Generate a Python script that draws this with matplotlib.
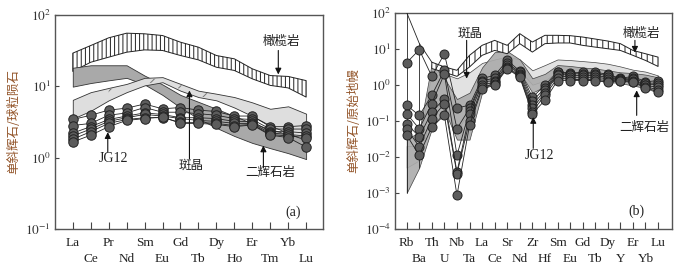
import matplotlib
matplotlib.use('Agg')
import matplotlib.pyplot as plt
import numpy as np

plt.rcParams['font.family'] = ['Liberation Serif', 'Noto Sans CJK SC', 'DejaVu Sans']
plt.rcParams['mathtext.fontset'] = 'stix'
plt.rcParams['hatch.linewidth'] = 0.7

# ---------------- (a) REE, chondrite normalised ----------------
ree = ['La', 'Ce', 'Pr', 'Nd', 'Sm', 'Eu', 'Gd', 'Tb', 'Dy', 'Ho', 'Er', 'Tm', 'Yb', 'Lu']
ree_olv_top = [28.8, 36.8, 47.2, 54.8, 53.7, 50.8, 41.0, 34.9, 26.7, 24.0, 17.4, 14.0, 13.6, 11.9]
ree_olv_bot = [16.0, 21.5, 25.3, 29.7, 32.0, 31.4, 26.7, 23.2, 18.3, 16.5, 12.6, 10.2, 9.4, 7.0]
ree_web_top = [18.0, 19.5, 19.5, 19.5, 14.0, 10.5, 7.5, 6.0, 4.8, 3.8, 3.0, 2.5, 2.1, 1.85]
ree_web_bot = [9.8, 11.0, 12.0, 13.0, 10.5, 7.5, 5.0, 3.5, 2.6, 2.0, 1.6, 1.35, 1.15, 0.95]
ree_phe_top = [6.4, 8.2, 9.4, 10.7, 13.0, 13.3, 10.7, 8.6, 7.8, 7.0, 5.9, 4.8, 5.2, 4.1]
ree_phe_bot = [3.5, 4.5, 6.3, 8.2, 10.2, 11.3, 8.6, 7.0, 6.3, 5.0, 3.8, 2.8, 2.2, 1.73]
ree_hat_idx = [2, 3, 4, 5, 6, 7, 8]
ree_hat_top = [9.0, 10.3, 12.5, 12.8, 10.3, 8.3, 7.5]
ree_hat_bot = [7.5, 8.8, 10.8, 11.5, 9.0, 7.2, 6.5]
ree_jg12 = [
    [3.4, 3.9, 4.6, 4.9, 5.6, 4.8, 5.0, 4.6, 4.4, 3.8, 3.8, 2.7, 2.7, 2.8],
    [2.8, 3.0, 3.9, 4.2, 5.0, 4.3, 4.3, 4.1, 3.9, 3.5, 3.4, 2.5, 2.5, 2.5],
    [2.2, 2.7, 3.4, 3.8, 4.2, 4.0, 3.6, 3.6, 3.5, 3.2, 3.2, 2.3, 2.3, 2.2],
    [2.0, 2.5, 3.2, 3.6, 4.0, 3.8, 3.5, 3.3, 3.2, 3.0, 3.0, 2.2, 2.1, 2.0],
    [1.8, 2.3, 3.0, 3.4, 3.6, 3.6, 3.1, 3.1, 3.0, 2.8, 2.9, 2.1, 2.0, 1.9],
    [1.65, 2.05, 2.7, 3.3, 3.5, 3.7, 3.0, 3.0, 2.9, 2.7, 2.85, 2.05, 1.9, 1.4],
]

# ---------------- (b) trace elements, primitive mantle normalised ----------------
spd = ['Rb', 'Ba', 'Th', 'U', 'Nb', 'Ta', 'La', 'Ce', 'Sr', 'Nd', 'Zr', 'Hf',
       'Sm', 'Eu', 'Gd', 'Tb', 'Dy', 'Y', 'Er', 'Yb', 'Lu']
spd_olv_idx = list(range(2, 21))
spd_olv_top = [4.2, 3.1, 2.5, 6.5, 12.3, 16.9, 12.3, 25.9, 15.2, 23.3, 23.3, 22.8, 20.9, 18.4, 16.2, 13.7, 8.9, 7.2, 5.8]
spd_olv_bot = [2.8, 2.2, 1.7, 3.1, 6.5, 8.9, 7.2, 13.7, 8.0, 13.7, 14.3, 14.3, 12.3, 11.0, 9.9, 8.9, 6.5, 4.7, 3.2]
spd_phe_top = [0.02, 0.02, 2.5, 2.0, 1.5, 2.2, 4.0, 5.0, 6.0, 5.0, 2.5, 3.5, 5.0, 4.8, 4.5, 4.2, 3.8, 3.2, 2.6, 2.3, 1.8]
spd_phe_bot = [0.005, 0.008, 0.2, 0.3, 0.05, 0.2, 1.0, 2.0, 3.5, 2.5, 1.0, 1.3, 2.3, 2.2, 2.0, 1.9, 1.8, 1.6, 1.5, 1.3, 1.1]
spd_web_top = [0.03, 0.05, 4.0, 1.5, 0.4, 0.6, 3.0, 8.0, 8.5, 5.0, 1.5, 2.0, 3.5, 3.3, 3.0, 2.8, 2.5, 2.2, 2.1, 1.9, 1.6]
spd_web_bot = [0.001, 0.005, 0.06, 0.2, 0.03, 0.03, 0.6, 1.5, 3.5, 2.2, 0.6, 0.9, 1.6, 1.5, 1.4, 1.3, 1.2, 1.1, 0.95, 0.8, 0.6]
spd_env_idx = [0, 1, 2]
spd_env_val = [100, 14, 4.2]
spd_vline_idx = [0, 1]
spd_vline_lo = [0.001, 0.005]
spd_vline_hi = [100, 14]
spd_jg12 = [
    [4.07, 9.3, 1.7, 7.2, 0.226, 0.27, 1.5, 1.8, 4.7, 2.4, 0.45, 0.96, 2.3, 2.1, 2.2, 2.2, 1.95, 1.5, 1.7, 1.2, 1.3],
    [0.27, 0.14, 0.51, 2.5, 0.06, 0.22, 1.3, 1.5, 4.0, 2.2, 0.35, 0.8, 2.2, 2.0, 2.0, 2.0, 1.8, 1.45, 1.55, 1.1, 1.1],
    [0.157, 0.06, 0.3, 2.0, 0.011, 0.19, 1.19, 1.3, 3.4, 2.0, 0.27, 0.7, 2.0, 1.8, 1.8, 1.8, 1.6, 1.4, 1.4, 1.0, 1.0],
    [0.083, 0.036, 0.175, 0.41, 0.0038, 0.15, 1.0, 1.15, 3.1, 1.8, 0.22, 0.6, 1.8, 1.6, 1.6, 1.6, 1.47, 1.35, 1.3, 0.95, 0.85],
    [0.06, 0.019, 0.114, 0.3, 0.0034, 0.1, 0.85, 1.05, 2.9, 1.7, 0.18, 0.51, 1.5, 1.4, 1.4, 1.4, 1.3, 1.3, 1.2, 0.88, 0.72],
    [0.04, 0.011, 0.068, 0.14, 0.00086, 0.075, 0.77, 0.96, 2.8, 1.6, 0.157, 0.37, 1.3, 1.3, 1.3, 1.3, 1.19, 1.25, 1.15, 0.83, 0.63],
]

CJK = ['Noto Sans CJK SC', 'DejaVu Sans']
label_color = '#93552a'
txt_color = '#222222'
dot_kw = dict(marker='o', ms=6.8, mfc='#5c5c5c', mec='#222222', mew=0.7,
              color='#222222', lw=0.6)

fig = plt.figure(figsize=(6.82, 2.69), dpi=100)
axA = fig.add_axes([55 / 682, 40 / 269, 268 / 682, 214.5 / 269])
axB = fig.add_axes([395 / 682, 40 / 269, 277 / 682, 216.5 / 269])


def style(ax, names, ylo, yhi, xlim):
    ax.set_yscale('log')
    ax.set_ylim(ylo, yhi)
    ax.set_xlim(*xlim)
    idx = np.arange(len(names))
    ev = idx[::2]
    od = idx[1::2]
    ax.set_xticks(ev)
    ax.set_xticklabels([names[i] for i in ev], fontsize=9.5, color='#222222')
    ax.set_xticks(od, minor=True)
    ax.set_xticklabels([names[i] for i in od], minor=True, fontsize=9.5, color='#222222')
    exps = list(range(int(np.log10(ylo)), int(np.log10(yhi)) + 1))
    ax.set_yticks([10.0 ** e for e in exps])
    ax.set_yticklabels(['$10^{%d}$' % e for e in exps], fontsize=9.5, color='#333333')
    ax.yaxis.set_minor_locator(matplotlib.ticker.NullLocator())
    ax.tick_params(axis='x', which='major', direction='in', length=5, width=0.8, pad=5.5,
                   color='#444444')
    ax.tick_params(axis='x', which='minor', direction='in', length=5, width=0.8, pad=17,
                   color='#444444')
    ax.tick_params(axis='y', direction='in', length=3, width=0.8, pad=3, color='#444444')
    for s in ax.spines.values():
        s.set_color('#555555')
        s.set_linewidth(1.0)


# ----- panel (a) -----
style(axA, ree, 0.1, 100, (-0.99, 13.94))
xa = np.arange(len(ree))
axA.fill_between(xa, ree_olv_bot, ree_olv_top, facecolor='white', edgecolor='#222222',
                 hatch='||||', lw=0.7, zorder=1)
axA.fill_between(xa, ree_web_bot, ree_web_top, facecolor='#a9a9a9', edgecolor='#333333',
                 lw=0.6, zorder=2)
axA.fill_between(xa, ree_phe_bot, ree_phe_top, facecolor='#dedede', edgecolor='#333333',
                 lw=0.6, zorder=3)
axA.fill_between(ree_hat_idx, ree_hat_bot, ree_hat_top, facecolor='none', edgecolor='#777777',
                 hatch='/', lw=0, zorder=3.5)
for s in ree_jg12:
    axA.plot(xa, s, zorder=5, **dot_kw)

arrow_kw = dict(arrowstyle='-|>', mutation_scale=9, lw=0.8, color='#111111',
                shrinkA=0, shrinkB=0)
axA.annotate('', xy=(11.45, 14.5), xytext=(11.45, 31.4), arrowprops=arrow_kw, zorder=7)
axA.text(11.64, 41.9, '橄榄岩', family=CJK, fontsize=9, ha='center', va='center', color=txt_color)
axA.annotate('', xy=(1.95, 2.26), xytext=(1.95, 1.19), arrowprops=arrow_kw, zorder=7)
axA.text(2.25, 0.96, 'JG12', fontsize=10, ha='center', va='center', color=txt_color)
axA.annotate('', xy=(6.5, 8.65), xytext=(6.5, 0.96), arrowprops=arrow_kw, zorder=7)
axA.text(6.6, 0.79, '斑晶', family=CJK, fontsize=9, ha='center', va='center', color=txt_color)
axA.annotate('', xy=(10.62, 1.47), xytext=(10.62, 0.73), arrowprops=arrow_kw, zorder=7)
axA.text(11.0, 0.62, '二辉石岩', family=CJK, fontsize=9, ha='center', va='center', color=txt_color)
axA.text(12.29, 0.169, '(a)', fontsize=10, ha='center', va='center', color=txt_color)
axA.set_ylabel('单斜辉石/球粒陨石', family=CJK, fontsize=9, color=label_color)
axA.yaxis.set_label_coords(-0.13, 0.5)

# ----- panel (b) -----
style(axB, spd, 1e-4, 100, (-0.93, 21.11))
xb = np.arange(len(spd))
axB.fill_between(xb, spd_phe_bot, spd_phe_top, facecolor='#e2e2e2', edgecolor='#444444',
                 lw=0.5, zorder=1)
axB.fill_between(xb, spd_web_bot, spd_web_top, facecolor='#ababab', edgecolor='#333333',
                 lw=0.5, zorder=2, alpha=0.9)
axB.fill_between(spd_olv_idx, spd_olv_bot, spd_olv_top, facecolor='white', edgecolor='#222222',
                 hatch='|||', lw=0.7, zorder=3)
axB.plot(spd_env_idx, spd_env_val, color='#222222', lw=0.6, zorder=4)
axB.vlines(spd_vline_idx, spd_vline_lo, spd_vline_hi, color='#222222', lw=0.6, zorder=4)
for s in spd_jg12:
    axB.plot(xb, s, zorder=5, **dict(dot_kw, ms=6.5))

axB.annotate('', xy=(4.77, 1.47), xytext=(4.77, 16.9), arrowprops=arrow_kw, zorder=7)
axB.text(5.04, 25.9, '斑晶', family=CJK, fontsize=9, ha='center', va='center', color=txt_color)
axB.annotate('', xy=(18.16, 7.7), xytext=(18.16, 16.9), arrowprops=arrow_kw, zorder=7)
axB.text(18.7, 25.9, '橄榄岩', family=CJK, fontsize=9, ha='center', va='center', color=txt_color)
axB.annotate('', xy=(10.07, 0.127), xytext=(10.07, 0.0172), arrowprops=arrow_kw, zorder=7)
axB.text(10.55, 0.011, 'JG12', fontsize=10, ha='center', va='center', color=txt_color)
axB.annotate('', xy=(18.3, 0.695), xytext=(18.3, 0.141), arrowprops=arrow_kw, zorder=7)
axB.text(18.88, 0.063, '二辉石岩', family=CJK, fontsize=9, ha='center', va='center', color=txt_color)
axB.text(18.3, 0.000316, '(b)', fontsize=10, ha='center', va='center', color=txt_color)
axB.set_ylabel('单斜辉石/原始地幔', family=CJK, fontsize=9, color=label_color)
axB.yaxis.set_label_coords(-0.126, 0.5)

fig.savefig('out.png', dpi=100)
